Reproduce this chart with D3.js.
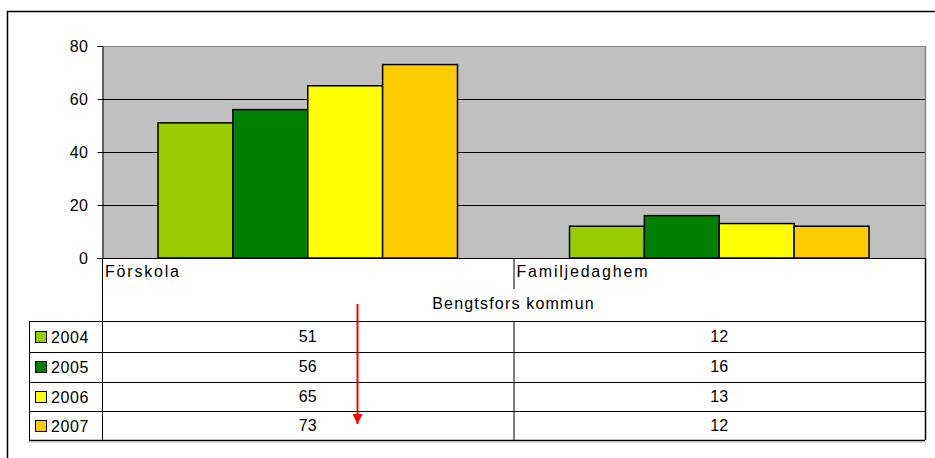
<!DOCTYPE html>
<html>
<head>
<meta charset="utf-8">
<script src="https://cdn.jsdelivr.net/npm/d3@7"></script>
<style>
  body { margin: 0; background: #fff; }
  svg { display: block; font-family: "Liberation Sans", Arial, sans-serif; }
</style>
</head>
<body>
<svg id="chart" width="935" height="458"></svg>
<script>
// data
const categories = ["Förskola", "Familjedaghem"];
const years = ["2004", "2005", "2006", "2007"];
const v2004 = [51, 12];
const v2005 = [56, 16];
const v2006 = [65, 13];
const v2007 = [73, 12];
const yTicks = [0, 20, 40, 60, 80];
const groupLabel = "Bengtsfors kommun";

const series = [v2004, v2005, v2006, v2007];
const colors = ["#99CC00", "#008000", "#FFFF00", "#FFCC00"];

const plot = {left: 102, right: 925, top: 46, bottom: 258};
const rows = [321, 352, 382, 411, 440];

const svg = d3.select("#chart");

// outer frame (right/bottom run off the page)
svg.append("rect")
    .attr("x", 7.5).attr("y", 11.5)
    .attr("width", 960).attr("height", 480)
    .attr("fill", "#fff").attr("stroke", "#000").attr("stroke-width", 1.5);

// scales
const x = d3.scaleBand().domain(categories).range([plot.left, plot.right]);
const x1 = d3.scaleBand().domain(years).range([56, x.bandwidth() - 56]);
const y = d3.scaleLinear().domain([0, 80]).range([plot.bottom, plot.top]);

// plot background
svg.append("rect")
    .attr("x", plot.left).attr("y", plot.top)
    .attr("width", plot.right - plot.left).attr("height", plot.bottom - plot.top)
    .attr("fill", "#C0C0C0");

// grid lines
svg.append("g")
    .selectAll("line")
    .data(yTicks.slice(1))
    .join("line")
    .attr("x1", plot.left).attr("x2", plot.right)
    .attr("y1", d => Math.round(y(d)) + 0.5).attr("y2", d => Math.round(y(d)) + 0.5)
    .attr("stroke", d => d === 80 ? "#808080" : "#000");

// right edge shadow of plot area
svg.append("line")
    .attr("x1", plot.right + 0.5).attr("x2", plot.right + 0.5)
    .attr("y1", plot.top).attr("y2", plot.bottom)
    .attr("stroke", "#808080").attr("stroke-width", 1.5);

// bars
svg.append("g")
    .selectAll("g")
    .data(series)
    .join("g")
    .attr("fill", (d, i) => colors[i])
    .each(function (vals, i) {
        d3.select(this).selectAll("rect")
            .data(vals)
            .join("rect")
            .attr("x", (d, j) => x(categories[j]) + x1(years[i]))
            .attr("y", d => y(d))
            .attr("width", x1.bandwidth())
            .attr("height", d => y(0) - y(d))
            .attr("stroke", "#000")
            .attr("stroke-width", 1.5);
    });

// y axis
const yAxis = svg.append("g")
    .attr("transform", `translate(${plot.left + 0.5},0)`)
    .call(d3.axisLeft(y).tickValues(yTicks).tickSize(5).tickPadding(9));
yAxis.select(".domain").attr("stroke", "#000");
yAxis.selectAll(".tick line").attr("stroke", "#000");
yAxis.selectAll(".tick text")
    .attr("font-size", 16).attr("fill", "#000")
    .attr("font-family", "Liberation Sans, Arial, sans-serif")
    .style("letter-spacing", "0.5px");

// axis base line
svg.append("line")
    .attr("x1", plot.left - 5).attr("x2", plot.right)
    .attr("y1", plot.bottom + 0.5).attr("y2", plot.bottom + 0.5)
    .attr("stroke", "#000");

// data table
const table = svg.append("g");
const tableLeft = 29;

// vertical lines
table.append("line")
    .attr("x1", plot.left + 0.5).attr("x2", plot.left + 0.5)
    .attr("y1", plot.bottom).attr("y2", rows[4])
    .attr("stroke", "#000");
table.append("line")
    .attr("x1", tableLeft + 0.5).attr("x2", tableLeft + 0.5)
    .attr("y1", rows[0]).attr("y2", rows[4])
    .attr("stroke", "#000");
table.append("line")
    .attr("x1", plot.right + 0.5).attr("x2", plot.right + 0.5)
    .attr("y1", plot.bottom).attr("y2", rows[4])
    .attr("stroke", "#000").attr("stroke-width", 1.5);
table.append("line")
    .attr("x1", x(categories[1]) + 0.5).attr("x2", x(categories[1]) + 0.5)
    .attr("y1", plot.bottom).attr("y2", 289)
    .attr("stroke", "#000");
table.append("line")
    .attr("x1", x(categories[1]) + 0.5).attr("x2", x(categories[1]) + 0.5)
    .attr("y1", rows[0]).attr("y2", rows[4])
    .attr("stroke", "#000");

// horizontal lines
table.selectAll("line.row")
    .data(rows)
    .join("line")
    .attr("class", "row")
    .attr("x1", tableLeft)
    .attr("x2", plot.right)
    .attr("y1", d => d + 0.5).attr("y2", d => d + 0.5)
    .attr("stroke", "#000")
    .attr("stroke-width", (d, i) => i === rows.length - 1 ? 1.5 : 1);
table.append("line")
    .attr("x1", tableLeft).attr("x2", plot.right + 1)
    .attr("y1", rows[4] + 2).attr("y2", rows[4] + 2)
    .attr("stroke", "#bbb");

// category labels
table.selectAll("text.cat")
    .data(categories)
    .join("text")
    .attr("class", "cat")
    .attr("x", d => x(d) + 3)
    .attr("y", 277)
    .attr("font-size", 16)
    .style("letter-spacing", "1.8px")
    .text(d => d);

table.append("text")
    .attr("x", x(categories[1]))
    .attr("y", 309)
    .attr("text-anchor", "middle")
    .attr("font-size", 16)
    .style("letter-spacing", "1.2px")
    .text(groupLabel);

// legend rows
years.forEach((yr, i) => {
    const top = rows[i], bot = rows[i + 1];
    const mid = (top + bot) / 2;
    table.append("rect")
        .attr("x", 35.5).attr("y", Math.round(mid - 6) + 0.5)
        .attr("width", 11).attr("height", 11)
        .attr("fill", colors[i]).attr("stroke", "#000");
    table.append("text")
        .attr("x", 51).attr("y", mid + 6)
        .attr("font-size", 16)
        .style("letter-spacing", "0.6px")
        .text(yr);
    series[i].forEach((v, j) => {
        table.append("text")
            .attr("x", x(categories[j]) + x.bandwidth() / 2)
            .attr("y", mid + 5)
            .attr("text-anchor", "middle")
            .attr("font-size", 16)
            .text(v);
    });
});

// red arrow annotation
const defs = svg.append("defs");
defs.append("marker")
    .attr("id", "arrow")
    .attr("viewBox", "0 0 10 10")
    .attr("refX", 10).attr("refY", 5)
    .attr("markerWidth", 6).attr("markerHeight", 5)
    .attr("markerUnits", "strokeWidth")
    .attr("orient", "auto")
    .append("path")
    .attr("d", "M0,0L10,5L0,10Z")
    .attr("fill", "#FF0000");
svg.append("line")
    .attr("x1", 357.5).attr("x2", 357.5)
    .attr("y1", 304).attr("y2", 424)
    .attr("stroke", "#FF0000").attr("stroke-width", 2)
    .attr("marker-end", "url(#arrow)");
</script>
</body>
</html>
